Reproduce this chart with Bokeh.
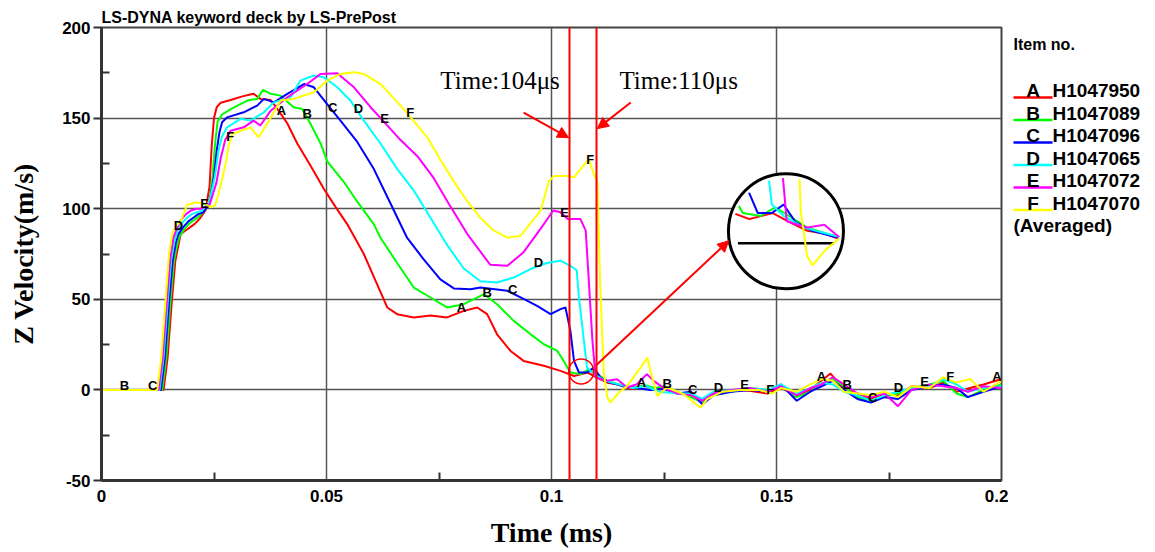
import numpy as np
from bokeh.plotting import figure
from bokeh.layouts import row
from bokeh.models import (Range1d, FixedTicker, CustomJSTickFormatter, Span, Arrow,
                          NormalHead, Label)
from bokeh.core.properties import value
from bokeh.embed import file_html
from bokeh.resources import INLINE

# ---------------- data ----------------
TITLE = "LS-DYNA keyword deck by LS-PrePost"
X_LABEL = "Time (ms)"
Y_LABEL = "Z Velocity(m/s)"
X_RANGE = (0.0, 0.2)
Y_RANGE = (-50.0, 200.0)
X_TICKS = [0.0, 0.05, 0.1, 0.15, 0.2]
X_TICK_LABELS = ["0", "0.05", "0.1", "0.15", "0.2"]
X_MINOR = [0.025, 0.075, 0.125, 0.175]
Y_TICKS = [-50, 0, 50, 100, 150, 200]
Y_TICK_LABELS = ["-50", "0", "50", "100", "150", "200"]
Y_MINOR = [-25, 25, 75, 125, 175]

letters = ["A", "B", "C", "D", "E", "F"]
items = ["H1047950", "H1047089", "H1047096", "H1047065", "H1047072", "H1047070"]
colors = ["#ff0000", "#00ff00", "#0000ff", "#00ffff", "#ff00ff", "#ffff00"]
LEGEND_HEADER = "Item no."
LEGEND_FOOTER = "(Averaged)"

t_A = [0.0, 0.0138, 0.0147, 0.0156, 0.0164, 0.0171, 0.0176, 0.0187, 0.0198, 0.0209, 0.0220, 0.0231,
       0.0240, 0.0245, 0.0250, 0.0256, 0.0265, 0.0287, 0.0313, 0.0338, 0.0353, 0.0376, 0.0394, 0.0413,
       0.0435, 0.0464, 0.0494, 0.0520, 0.0546, 0.0583, 0.0613, 0.0635, 0.0657, 0.0694, 0.0731, 0.0768,
       0.0805, 0.0835, 0.0857, 0.0879, 0.0909, 0.0938, 0.0983, 0.1020, 0.1050, 0.1080, 0.1101, 0.1124,
       0.1146, 0.1176, 0.1205, 0.1227, 0.1250, 0.1280, 0.1310, 0.1335, 0.1360, 0.1400, 0.1440, 0.1480,
       0.1510, 0.1545, 0.1575, 0.1600, 0.1620, 0.1645, 0.1680, 0.1710, 0.1740, 0.1770, 0.1800, 0.1840,
       0.1870, 0.1900, 0.1930, 0.1960, 0.2000]
v_A = [0, 0, 18, 48, 71, 80, 86, 88, 90, 92, 95, 99,
       112, 135, 150, 156, 158.5, 160, 162, 163.4, 160.6, 160, 154, 147,
       136, 124, 111, 101, 91.5, 75, 58, 45.5, 41.8, 40, 41, 40,
       43.6, 45.5, 41.8, 30.7, 21.5, 16, 13.3, 10.5, 7.7, 9.6, 6.8, 4,
       3.1, 0.4, 2.2, 0.4, 1.5, -1.5, -3, -6, -2, 0, -0.5, -2,
       1, -3, 0, 5, 9, 2, -2, -5, -2, -3, 2, 1,
       4, -1, 1, 3, 6]

t_B = [0.0, 0.0135, 0.0144, 0.0153, 0.0161, 0.0168, 0.0174, 0.0185, 0.0196, 0.0207, 0.0218, 0.0229,
       0.0240, 0.0247, 0.0252, 0.0258, 0.0268, 0.0287, 0.0324, 0.0346, 0.0359, 0.0376, 0.0398, 0.0427,
       0.0446, 0.0464, 0.0487, 0.0502, 0.0538, 0.0568, 0.0605, 0.0620, 0.0657, 0.0694, 0.0731, 0.0768,
       0.0805, 0.0850, 0.0879, 0.0916, 0.0953, 0.0983, 0.1013, 0.1027, 0.1042, 0.1065, 0.1083, 0.1101,
       0.1124, 0.1150, 0.1180, 0.1210, 0.1230, 0.1250, 0.1280, 0.1310, 0.1335, 0.1360, 0.1400, 0.1440,
       0.1480, 0.1510, 0.1545, 0.1575, 0.1600, 0.1625, 0.1650, 0.1680, 0.1710, 0.1740, 0.1770, 0.1800,
       0.1840, 0.1870, 0.1900, 0.1925, 0.1960, 0.2000]
v_B = [0, 0, 18, 48, 71, 80, 85, 89, 92, 94, 96, 99,
       104, 118, 135, 148, 152, 155, 159.7, 160.6, 165.6, 163.4, 162.4, 156,
       155, 147, 136, 126, 115, 104, 91.5, 84, 70, 56.5, 51, 45.5,
       47.3, 52.8, 47.3, 38.1, 30.8, 25.2, 21.5, 16, 9.6, 8.7, 11.4, 8.7,
       5, 3, 1, 2.5, 1, 2, -1, -4, -7, -3, -1, 1,
       0, 2, -4, -1, 3, 6, 2, -4, -6, -4, -2, 1,
       3, 5, -2, -4, 0, 3]

t_C = [0.0, 0.0132, 0.0141, 0.0150, 0.0158, 0.0165, 0.0171, 0.0182, 0.0193, 0.0204, 0.0215, 0.0226,
       0.0240, 0.0250, 0.0256, 0.0262, 0.0268, 0.0279, 0.0316, 0.0346, 0.0361, 0.0383, 0.0413, 0.0450,
       0.0472, 0.0501, 0.0531, 0.0568, 0.0605, 0.0642, 0.0679, 0.0716, 0.0753, 0.0783, 0.0820, 0.0842,
       0.0902, 0.0939, 0.0968, 0.0998, 0.1020, 0.1031, 0.1042, 0.1050, 0.1061, 0.1079, 0.1094, 0.1109,
       0.1130, 0.1160, 0.1190, 0.1220, 0.1250, 0.1280, 0.1310, 0.1335, 0.1360, 0.1400, 0.1440, 0.1480,
       0.1510, 0.1545, 0.1575, 0.1600, 0.1625, 0.1650, 0.1680, 0.1710, 0.1740, 0.1770, 0.1800, 0.1840,
       0.1870, 0.1900, 0.1925, 0.1960, 0.2000]
v_C = [0, 0, 18, 48, 71, 81, 86, 90, 93, 95, 97, 98,
       103, 118, 132, 142, 147.7, 150.4, 153.2, 156.9, 160.6, 158.7, 163.4, 168.8,
       167, 157.8, 148.6, 137, 122, 103, 84, 72, 61, 56, 55.6, 56.5,
       54.7, 50.1, 46.4, 41.8, 44.6, 45.5, 32.6, 16, 9.6, 9.6, 12.3, 6.8,
       4, 2, 1, 0, 0.5, -2, -1, -8, -3, -1, 0, -1,
       3, -6, -1, 2, 5, 0, -5, -7, -4, -5, 0, 2,
       3, 1, -4, -1, 2]

t_D = [0.0, 0.0129, 0.0138, 0.0147, 0.0155, 0.0162, 0.0168, 0.0179, 0.0190, 0.0201, 0.0212, 0.0223,
       0.0240, 0.0252, 0.0260, 0.0268, 0.0279, 0.0309, 0.0331, 0.0361, 0.0383, 0.0420, 0.0442, 0.0472,
       0.0494, 0.0524, 0.0553, 0.0583, 0.0620, 0.0657, 0.0694, 0.0731, 0.0768, 0.0805, 0.0842, 0.0879,
       0.0916, 0.0953, 0.0990, 0.1020, 0.1042, 0.1056, 0.1061, 0.1072, 0.1079, 0.1094, 0.1120, 0.1150,
       0.1180, 0.1210, 0.1240, 0.1280, 0.1310, 0.1335, 0.1360, 0.1400, 0.1440, 0.1480, 0.1510, 0.1545,
       0.1575, 0.1600, 0.1625, 0.1650, 0.1680, 0.1710, 0.1740, 0.1770, 0.1800, 0.1840, 0.1870, 0.1900,
       0.1925, 0.1960, 0.2000]
v_D = [0, 0, 18, 48, 72, 82, 87, 92, 95, 97, 98, 99,
       104, 118, 132, 140, 144.9, 149.6, 148.6, 153.2, 158.7, 161.5, 170.7, 173.5,
       172.6, 167, 159.7, 148.6, 136, 122, 110, 95, 80, 67, 60, 59.3,
       62, 66.7, 70, 71.3, 68.5, 66, 51, 27, 12.3, 8.7, 5, 3,
       1, 2, -1, -2, -2, -5, -1, 0, 1, 0, 3, -2,
       1, 4, 3, -1, -3, -6, -3, -1, 1, 2, 6, 3,
       -1, 1, 2]

t_E = [0.0, 0.0127, 0.0136, 0.0145, 0.0153, 0.0160, 0.0166, 0.0177, 0.0188, 0.0199, 0.0210, 0.0221,
       0.0240, 0.0255, 0.0265, 0.0275, 0.0287, 0.0316, 0.0338, 0.0353, 0.0376, 0.0413, 0.0457, 0.0487,
       0.0524, 0.0561, 0.0598, 0.0635, 0.0664, 0.0702, 0.0738, 0.0776, 0.0813, 0.0849, 0.0864, 0.0902,
       0.0938, 0.0976, 0.1004, 0.1020, 0.1036, 0.1064, 0.1076, 0.1082, 0.1091, 0.1098, 0.1124, 0.1146,
       0.1168, 0.1190, 0.1212, 0.1227, 0.1250, 0.1280, 0.1310, 0.1335, 0.1360, 0.1400, 0.1440, 0.1480,
       0.1510, 0.1545, 0.1575, 0.1600, 0.1625, 0.1650, 0.1680, 0.1710, 0.1740, 0.1770, 0.1800, 0.1840,
       0.1870, 0.1900, 0.1925, 0.1960, 0.2000]
v_E = [0, 0, 18, 48, 73, 84, 88, 94, 97, 99, 100, 100,
       102, 114, 128, 138, 143, 144.9, 148.6, 145.9, 154.1, 161.5, 168.8, 174.4,
       174.8, 167, 156, 146, 138, 129, 117, 101, 86, 74, 69, 68.5,
       76, 89, 99, 98, 94.3, 94.3, 88, 64, 27, 7, 5, 5.9,
       1.3, 3.1, 8.7, 5, 1, -2, -3, -6, -2, 0, 1, -1,
       2, -3, 1, 3, 7, 3, -2, -4, -2, -9, 0, 3,
       2, 1, -1, 2, 1]

t_F = [0.0, 0.0124, 0.0133, 0.0142, 0.0150, 0.0157, 0.0164, 0.0176, 0.0190, 0.0209, 0.0231, 0.0242,
       0.0253, 0.0264, 0.0276, 0.0282, 0.0290, 0.0309, 0.0331, 0.0349, 0.0368, 0.0398, 0.0427, 0.0472,
       0.0502, 0.0531, 0.0561, 0.0583, 0.0620, 0.0664, 0.0693, 0.0724, 0.0753, 0.0782, 0.0813, 0.0842,
       0.0871, 0.0902, 0.0931, 0.0960, 0.0976, 0.0994, 0.1005, 0.1035, 0.1050, 0.1068, 0.1083, 0.1094,
       0.1102, 0.1108, 0.1116, 0.1124, 0.1131, 0.1146, 0.1168, 0.1198, 0.1213, 0.1220, 0.1235, 0.1257,
       0.1294, 0.1331, 0.1346, 0.1380, 0.1420, 0.1460, 0.1490, 0.1510, 0.1545, 0.1575, 0.1600, 0.1625,
       0.1650, 0.1680, 0.1710, 0.1740, 0.1770, 0.1800, 0.1840, 0.1870, 0.1900, 0.1930, 0.1960, 0.2000]
v_F = [0, 0, 18, 48, 75, 86, 90, 93, 102, 103.5, 102.6, 100.7,
       102, 112, 125, 134, 141, 143, 144.9, 139.4, 146.8, 159.7, 160.6, 164.3,
       170.7, 174.4, 175.3, 174.4, 168.8, 157, 148.6, 139.4, 127, 115.5, 104, 95,
       88, 84, 85, 94, 99, 115, 118, 118, 117.3, 123, 127.4, 119,
       115, 60, 10, -4, -7, -2.4, 2.2, 12.3, 17.8, 10.5, -3.3, 1.3,
       -2.4, -9.8, -5.1, -1, 0, 0, -2, 1, -1, 3, 6, 5,
       -1, -2, -3, -1, -4, 2, 1, 7, 4, 6, -1, 5]

# times at which the curve letters sit on each curve
label_times_A = [0.0400, 0.0800, 0.1200, 0.1600, 0.1990]
label_times_B = [0.0051, 0.0457, 0.0857, 0.1257, 0.1657]
label_times_C = [0.0114, 0.0514, 0.0914, 0.1314, 0.1714]
label_times_D = [0.0171, 0.0571, 0.0971, 0.1371, 0.1771]
label_times_E = [0.0229, 0.0629, 0.1029, 0.1429, 0.1829]
label_times_F = [0.0286, 0.0686, 0.1086, 0.1486, 0.1886]

# annotations
MARK_TIMES = [0.104, 0.110]
MARK_TEXTS = ["Time:104\u03bcs", "Time:110\u03bcs"]
MARK_TEXT_POS = [(0.0753, 170.7), (0.1151, 170.7)]
MARK_ARROWS = [((0.0938, 153.0), (0.1038, 139.2)), ((0.1176, 158.6), (0.1102, 144.2))]
SMALL_CIRCLE = (0.1066, 10.2)
ZOOM_ARROW = ((0.1098, 13.3), (0.1394, 82.3))
INSET_CENTER = (0.1521, 87.6)
INSET_SOURCE = (0.1097, 3.85)
INSET_ZOOM = 1.74
INSET_DIAMETER_PX = 115

series = [
    ("A", items[0], colors[0], t_A, v_A, label_times_A),
    ("B", items[1], colors[1], t_B, v_B, label_times_B),
    ("C", items[2], colors[2], t_C, v_C, label_times_C),
    ("D", items[3], colors[3], t_D, v_D, label_times_D),
    ("E", items[4], colors[4], t_E, v_E, label_times_E),
    ("F", items[5], colors[5], t_F, v_F, label_times_F),
]

# ---------------- layout ----------------
W_MAIN, H, W_LEG = 1008, 552, 147
B_L, B_R, B_T, B_B = 101, 7, 27, 72
FRAME_W = W_MAIN - B_L - B_R
FRAME_H = H - B_T - B_B
PX_T = FRAME_W / (X_RANGE[1] - X_RANGE[0])
PX_V = FRAME_H / (Y_RANGE[1] - Y_RANGE[0])

p = figure(width=W_MAIN, height=H, x_range=Range1d(*X_RANGE), y_range=Range1d(*Y_RANGE),
           output_backend="svg", toolbar_location=None, title=TITLE,
           min_border_left=B_L, min_border_right=B_R, min_border_top=B_T, min_border_bottom=B_B)
p.background_fill_color = "white"
p.border_fill_color = "white"
p.outline_line_color = "#444444"
p.outline_line_width = 2

p.title.text_font = "Liberation Sans"
p.title.text_font_style = "bold"
p.title.text_font_size = "16px"
p.title.text_color = "black"
p.title.align = "left"
p.title.standoff = 4
p.title.offset = 0

xt = FixedTicker(ticks=X_TICKS, minor_ticks=X_MINOR)
yt = FixedTicker(ticks=Y_TICKS, minor_ticks=Y_MINOR)
p.xaxis.ticker = xt
p.yaxis.ticker = yt
p.xgrid.ticker = xt
p.ygrid.ticker = yt
fmt_code = """
let best = 0; let d = Infinity;
for (let i = 0; i < tick_vals.length; i++) {
  const e = Math.abs(tick_vals[i] - tick);
  if (e < d) { d = e; best = i; }
}
return tick_labels[best];
"""
p.xaxis.formatter = CustomJSTickFormatter(args=dict(tick_vals=X_TICKS, tick_labels=X_TICK_LABELS), code=fmt_code)
p.yaxis.formatter = CustomJSTickFormatter(args=dict(tick_vals=Y_TICKS, tick_labels=Y_TICK_LABELS), code=fmt_code)
p.xaxis.axis_label = X_LABEL
p.yaxis.axis_label = Y_LABEL

for ax in (p.xaxis[0], p.yaxis[0]):
    ax.axis_line_color = "#333333"
    ax.axis_line_width = 3
    ax.major_label_text_font = "Liberation Sans"
    ax.major_label_text_font_style = "bold"
    ax.major_label_text_font_size = "17px"
    ax.major_label_text_color = "black"
    ax.axis_label_text_font = "Liberation Serif"
    ax.axis_label_text_font_style = "bold"
    ax.axis_label_text_font_size = "28px"
    ax.axis_label_text_color = "black"
    ax.minor_tick_in = 8
    ax.minor_tick_out = 0
    ax.minor_tick_line_color = "#333333"
    ax.minor_tick_line_width = 2
    ax.major_tick_line_color = "#333333"
    ax.major_tick_line_width = 2
    ax.major_tick_in = 0

p.xaxis.major_tick_out = 0
p.xaxis.major_label_standoff = 9
p.xaxis.axis_label_standoff = 12
p.yaxis.major_tick_out = 8
p.yaxis.major_label_standoff = 3
p.yaxis.axis_label_standoff = 20

p.grid.grid_line_color = "#555555"
p.grid.grid_line_width = 1.5

# curves
for letter, name, c, t, v, lt in series:
    p.line(t, v, line_color=c, line_width=2)

# curve letters placed on the curves
for letter, name, c, t, v, lt in series:
    ly = np.interp(lt, t, v)
    p.text(x=lt, y=ly, text=[letter] * len(lt), text_font=value("Liberation Sans"),
           text_font_style="bold", text_font_size="13px", text_color="black",
           text_align="center", text_baseline="middle", y_offset=-4)

# time marks
for tm in MARK_TIMES:
    p.add_layout(Span(location=tm, dimension="height", line_color="red", line_width=2))
for txt, (tx, ty) in zip(MARK_TEXTS, MARK_TEXT_POS):
    p.add_layout(Label(x=tx, y=ty, text=txt, text_font="Liberation Serif", text_font_size="25px",
                       text_color="black", text_align="left", text_baseline="middle"))
for (s, e) in MARK_ARROWS + [ZOOM_ARROW]:
    p.add_layout(Arrow(end=NormalHead(size=11, fill_color="red", line_color="red", line_width=1),
                       x_start=s[0], y_start=s[1], x_end=e[0], y_end=e[1],
                       line_color="red", line_width=2))

# small circle marking the zoomed region
p.scatter([SMALL_CIRCLE[0]], [SMALL_CIRCLE[1]], marker="circle", size=25,
          fill_color=None, line_color="red", line_width=1.5)

# magnifier inset
tc, vc = INSET_CENTER
sc_t, sc_v = INSET_SOURCE
R = INSET_DIAMETER_PX / 2
p.scatter([tc], [vc], marker="circle", size=INSET_DIAMETER_PX, fill_color="white",
          line_color="black", line_width=3)
v0 = vc + INSET_ZOOM * (0 - sc_v)
dy0 = (v0 - vc) * PX_V
half0 = np.sqrt((R - 8) ** 2 - dy0 ** 2) / PX_T
p.line([tc - half0, tc + half0], [v0, v0], line_color="black", line_width=2.5)
half_t = R / (INSET_ZOOM * PX_T)
ts = np.linspace(sc_t - half_t, sc_t + half_t, 3000)
for letter, name, c, t, v, lt in series:
    vs = np.interp(ts, t, v)
    tt = tc + INSET_ZOOM * (ts - sc_t)
    vv = vc + INSET_ZOOM * (vs - sc_v)
    inside = ((tt - tc) * PX_T) ** 2 + ((vv - vc) * PX_V) ** 2 <= (R - 4) ** 2
    p.line(np.where(inside, tt, np.nan), np.where(inside, vv, np.nan), line_color=c, line_width=2)

# ---------------- legend panel ----------------
# its frame is aligned with the main frame by the row layout, so use page-pixel coordinates
leg = figure(width=W_LEG, height=H, x_range=Range1d(0, W_LEG), y_range=Range1d(H - B_B, B_T),
             output_backend="svg", toolbar_location=None,
             min_border_left=0, min_border_right=0, min_border_top=B_T, min_border_bottom=B_B,
             x_axis_location=None, y_axis_location=None)
leg.grid.visible = False
leg.outline_line_color = None
leg.background_fill_color = "white"
leg.border_fill_color = "white"

LEG_X0, LEG_X1 = 5, 44
LEG_TOP, LEG_STEP = 90, 22.5
leg.text(x=[LEG_X0], y=[44], text=[LEGEND_HEADER], text_font=value("Liberation Sans"),
         text_font_style="bold", text_font_size="16px", text_color="black",
         text_align="left", text_baseline="middle")
for i, (letter, name, c, t, v, lt) in enumerate(series):
    yy = LEG_TOP + i * LEG_STEP
    leg.line([LEG_X0, LEG_X1], [yy + 7, yy + 7], line_color=c, line_width=2.5)
    leg.text(x=[(LEG_X0 + LEG_X1) / 2], y=[yy], text=[letter], text_font=value("Liberation Sans"),
             text_font_style="bold", text_font_size="19px", text_color="black",
             text_align="center", text_baseline="middle")
    leg.text(x=[LEG_X1], y=[yy], text=[name], text_font=value("Liberation Sans"),
             text_font_style="bold", text_font_size="19px", text_color="black",
             text_align="left", text_baseline="middle")
leg.text(x=[LEG_X0], y=[LEG_TOP + 6 * LEG_STEP], text=[LEGEND_FOOTER], text_font=value("Liberation Sans"),
         text_font_style="bold", text_font_size="19px", text_color="black",
         text_align="left", text_baseline="middle")

layout = row(p, leg)
open("out.html", "w").write(file_html(layout, INLINE))
